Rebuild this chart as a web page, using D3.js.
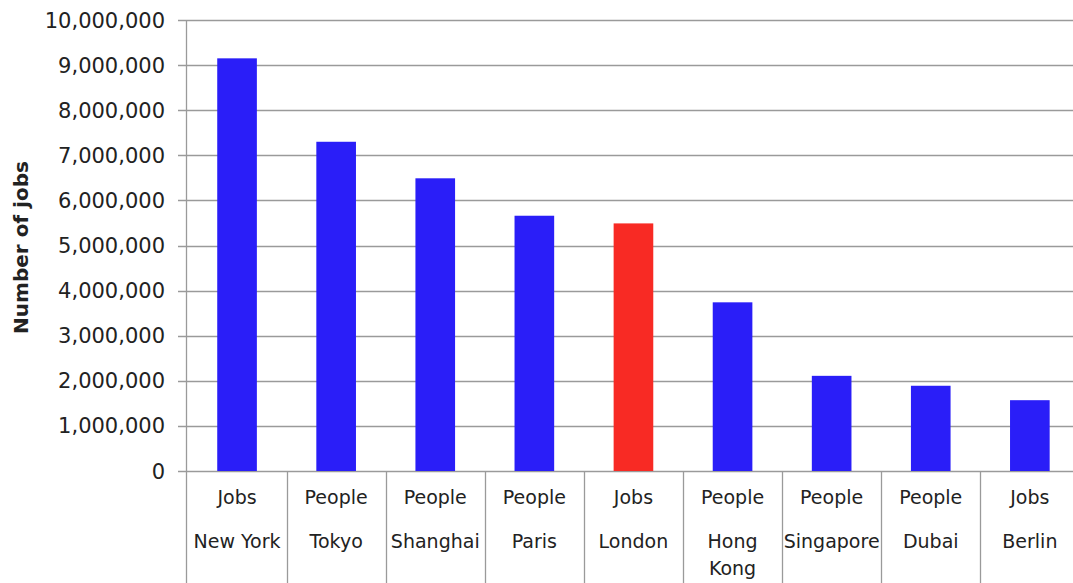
<!DOCTYPE html>
<html>
<head>
<meta charset="utf-8">
<script src="https://cdn.jsdelivr.net/npm/d3@7"></script>
<style>
  body { margin: 0; background: #fff; }
  text { font-family: "DejaVu Sans", sans-serif; fill: #222; }
</style>
</head>
<body>
<div id="chart"></div>
<script>
// data
var cities = ["New York", "Tokyo", "Shanghai", "Paris", "London", "Hong Kong", "Singapore", "Dubai", "Berlin"];
var measures = ["Jobs", "People", "People", "People", "Jobs", "People", "People", "People", "Jobs"];
var jobs = [9150000, 7300000, 6490000, 5660000, 5490000, 3740000, 2110000, 1890000, 1570000];
var highlight = "London";
var yTicks = [0, 1000000, 2000000, 3000000, 4000000, 5000000, 6000000, 7000000, 8000000, 9000000, 10000000];

var W = 1073, H = 583;
var margin = {top: 20, right: 0, bottom: 112, left: 186};
var width = W - margin.left - margin.right,
    height = H - margin.top - margin.bottom;

var svg = d3.select("#chart")
  .append("svg")
    .attr("width", W)
    .attr("height", H)
  .append("g")
    .attr("transform", "translate(" + margin.left + "," + margin.top + ")");

// categories run a little past the right edge
var x = d3.scaleBand()
  .domain(cities)
  .range([1.5, 1.5 + 9 * 99.1]);

var y = d3.scaleLinear()
  .domain([0, 10000000])
  .range([height, 0]);

var fmt = d3.format(",");
var grey = "#9a9a9a";

// gridlines + ticks
svg.selectAll(".grid")
  .data(yTicks)
  .enter().append("line")
    .attr("x1", -8)
    .attr("x2", width)
    .attr("y1", function(d) { return Math.round(y(d)) + 0.5; })
    .attr("y2", function(d) { return Math.round(y(d)) + 0.5; })
    .attr("stroke", grey)
    .attr("stroke-width", 1.3);

svg.selectAll(".ylab")
  .data(yTicks)
  .enter().append("text")
    .attr("x", -21)
    .attr("y", function(d) { return y(d); })
    .attr("dy", "0.36em")
    .attr("text-anchor", "end")
    .style("font-size", "21px")
    .text(function(d) { return fmt(d); });

// bars
var bw = x.bandwidth() * 0.4;
svg.selectAll(".bar")
  .data(cities)
  .enter().append("rect")
    .attr("x", function(d) { return x(d) + (x.bandwidth() - bw) / 2; })
    .attr("y", function(d, i) { return y(jobs[i]); })
    .attr("width", bw)
    .attr("height", function(d, i) { return height - y(jobs[i]); })
    .attr("fill", function(d) { return d === highlight ? "#f82a24" : "#2a1ef8"; });

// y axis line
svg.append("line")
  .attr("x1", 0.5).attr("x2", 0.5)
  .attr("y1", 0).attr("y2", H - margin.top)
  .attr("stroke", grey)
  .attr("stroke-width", 1.3);

// category separators below the axis
svg.selectAll(".sep")
  .data(cities.slice(1))
  .enter().append("line")
    .attr("x1", function(d) { return Math.round(x(d)) + 0.5; })
    .attr("x2", function(d) { return Math.round(x(d)) + 0.5; })
    .attr("y1", height)
    .attr("y2", H - margin.top)
    .attr("stroke", grey)
    .attr("stroke-width", 1.3);

// category labels
var lab = svg.selectAll(".xlab")
  .data(cities)
  .enter().append("g")
    .attr("transform", function(d) { return "translate(" + (x(d) + x.bandwidth() / 2) + "," + height + ")"; });

lab.append("text")
  .attr("y", 26)
  .attr("dy", "0.36em")
  .attr("text-anchor", "middle")
  .style("font-size", "19px")
  .text(function(d, i) { return measures[i]; });

lab.each(function(d) {
  var words = d === "Hong Kong" ? ["Hong", "Kong"] : [d];
  var g = d3.select(this);
  words.forEach(function(w, j) {
    g.append("text")
      .attr("y", 70 + j * 27)
      .attr("dy", "0.36em")
      .attr("text-anchor", "middle")
      .style("font-size", "19px")
      .text(w);
  });
});

// y title
svg.append("text")
  .attr("transform", "translate(" + (-margin.left + 28) + "," + (height / 2 + 2) + ") rotate(-90)")
  .attr("text-anchor", "middle")
  .style("font-size", "20px")
  .style("font-weight", "bold")
  .text("Number of jobs");
</script>
</body>
</html>
